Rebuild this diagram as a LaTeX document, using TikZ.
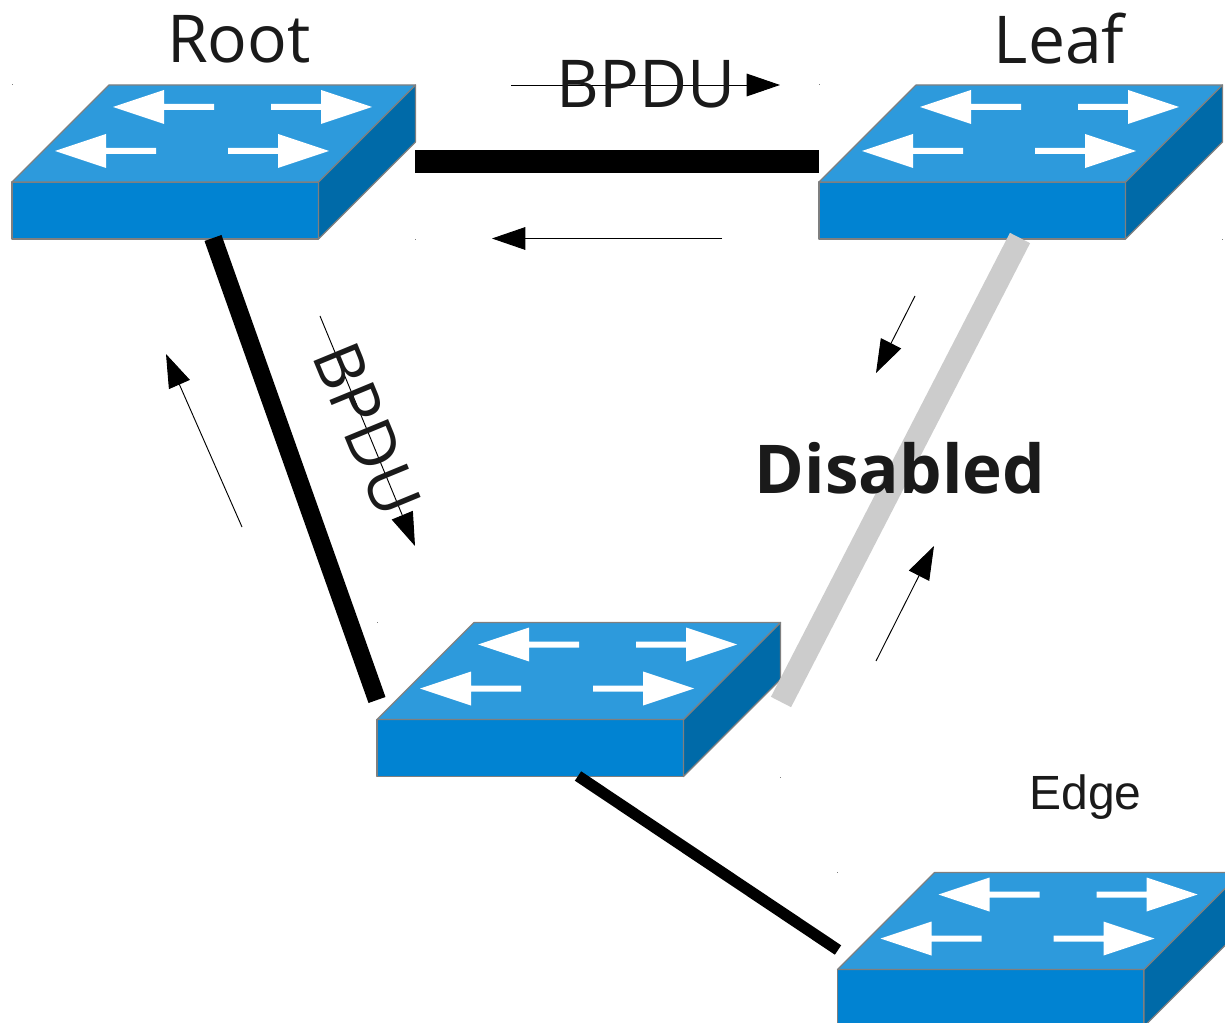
\documentclass[tikz,border=0pt]{standalone}
\usepackage{fontspec}
\setmainfont{Open Sans}
\newfontfamily\edgefont{Liberation Sans}
\usetikzlibrary{arrows.meta}
\definecolor{swtop}{HTML}{2D9ADC}
\definecolor{swfront}{HTML}{0183D2}
\definecolor{swside}{HTML}{006AA8}
\definecolor{swedge}{HTML}{7F7F7F}
\definecolor{inktext}{HTML}{1A1A1A}
\definecolor{disabledlink}{HTML}{CCCCCC}
\tikzset{
  x=0.75pt,y=-0.75pt,
  swface/.style={draw=swedge,line width=0.9pt,line join=round},
  whitearrow/.style={fill=white,draw=none},
  labeltext/.style={text=inktext,inner sep=0pt,font=\fontsize{49.5}{49.5}\selectfont},
  flow/.style={draw=black,line width=0.7pt,-{Triangle[length=25pt,width=17pt]}},
  link/.style={draw=black,line cap=butt},
  speck/.style={fill=swedge,draw=none},
  switchicon/.pic={
    \fill[speck] (-0.5,-0.5) rectangle (0.5,0.5);
    \fill[speck] (403,154) rectangle (404,155);
    \path[swface,fill=swfront] (0,97) -- (306.5,97) -- (306.5,154) -- (0,154) -- cycle;
    \path[swface,fill=swside] (306.5,97) -- (403.5,0) -- (403.5,57) -- (306.5,154) -- cycle;
    \path[swface,fill=swtop] (0,97) -- (97,0) -- (403.5,0) -- (306.5,97) -- cycle;
    \fill[whitearrow] (101,22) -- (152,5) -- (152,19) -- (202,19) -- (202,25) -- (152,25) -- (152,39) -- cycle;
    \fill[whitearrow] (360,22) -- (309,5) -- (309,19) -- (259,19) -- (259,25) -- (309,25) -- (309,39) -- cycle;
    \fill[whitearrow] (43,66) -- (94,49) -- (94,63) -- (144,63) -- (144,69) -- (94,69) -- (94,83) -- cycle;
    \fill[whitearrow] (317,66) -- (266,49) -- (266,63) -- (216,63) -- (216,69) -- (266,69) -- (266,83) -- cycle;
  }
}
\begin{document}
\begin{tikzpicture}
\useasboundingbox (0,0) rectangle (1225,1023);
\clip (0,0) rectangle (1225,1023);
% switches
\pic (root) at (12,85) {switchicon};
\pic (leaf) at (819,85) {switchicon};
\pic (mid) at (377,622.5) {switchicon};
\pic (edgesw) at (837.5,872.5) {switchicon};
% connector ends
\coordinate (rootE) at (415,161.5);
\coordinate (leafW) at (819,161.5);
\coordinate (rootS) at (213,238);
\coordinate (midNW) at (377,700);
\coordinate (leafS) at (1020,238);
\coordinate (midNE) at (781,702);
\coordinate (midS) at (578,776);
\coordinate (edgeW) at (838,950);
% links
\draw[link,line width=17.5pt] (rootE) -- (leafW);
\draw[link,line width=13.5pt] (rootS) -- (midNW);
\draw[link,draw=disabledlink,line width=17pt] (leafS) -- (midNE);
\draw[link,line width=8.5pt] (midS) -- (edgeW);
% flow arrow ends
\coordinate (f1a) at (511,85);   \coordinate (f1b) at (780,85);
\coordinate (f2a) at (722,238.5);  \coordinate (f2b) at (492,238.5);
\coordinate (f3a) at (320,316);  \coordinate (f3b) at (415,546);
\coordinate (f4a) at (242,527);  \coordinate (f4b) at (166,354);
\coordinate (f5a) at (915,296);  \coordinate (f5b) at (876,373);
\coordinate (f6a) at (876,661);  \coordinate (f6b) at (934,546);
\draw[flow] (f1a) -- (f1b);
\draw[flow] (f2a) -- (f2b);
\draw[flow] (f3a) -- (f3b);
\draw[flow] (f4a) -- (f4b);
\draw[flow] (f5a) -- (f5b);
\draw[flow] (f6a) -- (f6b);
% labels
\node[labeltext] (lroot) at (239,39) {Root};
\node[labeltext] (lleaf) at (1059,39) {Leaf};
\node[labeltext] (lb1) at (646,84) {BPDU};
\node[labeltext,rotate=-67.6] (lb2) at (367,429) {BPDU};
\node[labeltext,font=\fontsize{50.5}{50.5}\selectfont\bfseries] (ldis) at (900,468) {Disabled};
\node[text=inktext,inner sep=0pt,font=\fontsize{36}{36}\selectfont\edgefont] (ledge) at (1085.5,797) {Edge};
\end{tikzpicture}
\end{document}
